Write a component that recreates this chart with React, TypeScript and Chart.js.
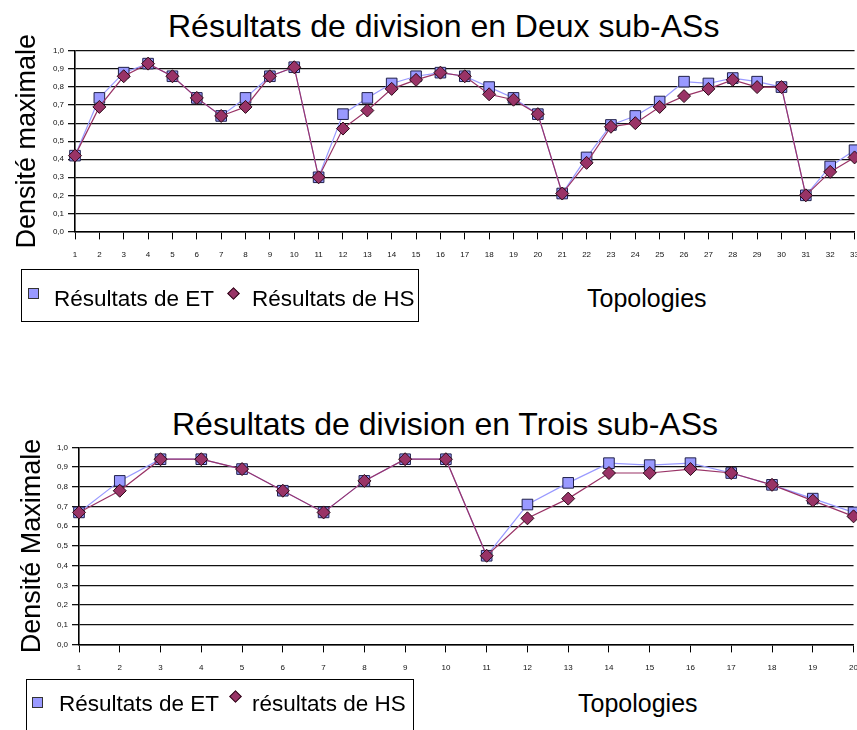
import React, { useEffect, useRef } from 'react';
import { Chart, registerables } from 'chart.js';

Chart.register(...registerables);

const FONT = '"Liberation Sans", Arial, Helvetica, sans-serif';

// Chart 1: division en Deux sub-ASs
const topologies1 = ['1', '2', '3', '4', '5', '6', '7', '8', '9', '10', '11', '12', '13', '14', '15', '16', '17', '18', '19', '20', '21', '22', '23', '24', '25', '26', '27', '28', '29', '30', '31', '32', '33'];
const et1 = [0.42, 0.74, 0.88, 0.93, 0.86, 0.74, 0.64, 0.74, 0.86, 0.91, 0.30, 0.65, 0.74, 0.82, 0.86, 0.88, 0.86, 0.80, 0.74, 0.65, 0.21, 0.41, 0.59, 0.64, 0.72, 0.83, 0.82, 0.85, 0.83, 0.80, 0.20, 0.36, 0.45];
const hs1 = [0.42, 0.69, 0.86, 0.93, 0.86, 0.74, 0.64, 0.69, 0.86, 0.91, 0.30, 0.57, 0.67, 0.79, 0.84, 0.88, 0.86, 0.76, 0.73, 0.65, 0.21, 0.38, 0.58, 0.60, 0.69, 0.75, 0.79, 0.84, 0.80, 0.80, 0.20, 0.33, 0.41];

// Chart 2: division en Trois sub-ASs
const topologies2 = ['1', '2', '3', '4', '5', '6', '7', '8', '9', '10', '11', '12', '13', '14', '15', '16', '17', '18', '19', '20'];
const et2 = [0.67, 0.83, 0.94, 0.94, 0.89, 0.78, 0.67, 0.83, 0.94, 0.94, 0.45, 0.71, 0.82, 0.92, 0.91, 0.92, 0.87, 0.81, 0.74, 0.67];
const hs2 = [0.67, 0.78, 0.94, 0.94, 0.89, 0.78, 0.67, 0.83, 0.94, 0.94, 0.45, 0.64, 0.74, 0.87, 0.87, 0.89, 0.87, 0.81, 0.73, 0.65];

const titles = ['Résultats de division en Deux sub-ASs', 'Résultats de division en Trois sub-ASs'];
const yTitles = ['Densité maximale', 'Densité Maximale'];
const legendET = ['Résultats de ET', 'Résultats de ET'];
const legendHS = ['Résultats de HS', 'résultats de HS'];
const xTitle = 'Topologies';

const ET_COLOR = '#9999FF';
const HS_COLOR = '#993366';

type LCProps = {
  labels: string[];
  et: number[];
  hs: number[];
  yTitle: string;
  top: number;
  width: number;
  height: number;
  padTop: number;
  axisWidth: number;
  yTitlePad: number;
};

function LineChart(p: LCProps) {
  const ref = useRef<HTMLCanvasElement>(null);
  useEffect(() => {
    const chart = new Chart(ref.current as HTMLCanvasElement, {
      type: 'line',
      data: {
        labels: p.labels,
        datasets: [
          {
            label: 'ET',
            data: p.et,
            borderColor: ET_COLOR,
            backgroundColor: ET_COLOR,
            borderWidth: 1.2,
            pointStyle: 'rect',
            pointRadius: 7.5,
            pointBackgroundColor: ET_COLOR,
            pointBorderColor: '#20204a',
            pointBorderWidth: 1,
            order: 2,
            clip: false as any,
            tension: 0,
          },
          {
            label: 'HS',
            data: p.hs,
            borderColor: HS_COLOR,
            backgroundColor: HS_COLOR,
            borderWidth: 1.2,
            pointStyle: 'rectRot',
            pointRadius: 6.5,
            pointBackgroundColor: HS_COLOR,
            pointBorderColor: '#2a0a18',
            pointBorderWidth: 1,
            order: 1,
            clip: false as any,
            tension: 0,
          },
        ],
      },
      options: {
        responsive: false,
        animation: false,
        layout: { padding: { top: p.padTop, left: 0, right: 0, bottom: 0 } },
        plugins: {
          legend: { display: false },
          tooltip: { enabled: false },
          title: { display: false },
        },
        scales: {
          x: {
            grid: { drawOnChartArea: false, drawTicks: true, tickLength: 8, color: '#000', lineWidth: 1 },
            border: { color: '#000', width: 1.6 },
            ticks: {
              autoSkip: false,
              maxRotation: 0,
              padding: 11,
              color: '#111',
              font: { family: FONT, size: 8, lineHeight: 1.2 },
            },
          },
          y: {
            min: 0,
            max: 1,
            afterFit: (s: any) => {
              s.width = p.axisWidth;
            },
            grid: { color: '#111', lineWidth: 1.3, tickLength: 7 },
            border: { color: '#000', width: 1.6 },
            ticks: {
              stepSize: 0.1,
              padding: 4,
              color: '#111',
              font: { family: FONT, size: 8 },
              callback: (v: any) => Number(v).toFixed(1).replace('.', ','),
            },
            title: {
              display: true,
              text: p.yTitle,
              color: '#000',
              font: { family: FONT, size: 27, lineHeight: 1.2 },
              padding: { top: p.yTitlePad, bottom: 0 },
            },
          },
        },
      },
    });
    return () => chart.destroy();
  }, []);
  return (
    <canvas
      ref={ref}
      width={p.width}
      height={p.height}
      style={{ position: 'absolute', left: 0, top: p.top, width: p.width, height: p.height }}
    />
  );
}

function Legend(props: {
  left: number;
  top: number;
  width: number;
  height: number;
  sq: [number, number];
  t1: [number, number];
  dm: [number, number];
  t2: [number, number];
  a: string;
  b: string;
}) {
  const { left, top, width, height, sq, t1, dm, t2, a, b } = props;
  const txt: React.CSSProperties = { position: 'absolute', fontSize: 22.5, lineHeight: '23px', whiteSpace: 'nowrap', color: '#000' };
  return (
    <>
      <div style={{ position: 'absolute', left, top, width, height, border: '1px solid #000', boxSizing: 'border-box' }} />
      <div style={{ position: 'absolute', left: sq[0] - 5.5, top: sq[1] - 5.5, width: 11, height: 11, background: ET_COLOR, border: '1px solid #333', boxSizing: 'border-box' }} />
      <div style={{ ...txt, left: t1[0], top: t1[1] - 11.5 }}>{a}</div>
      <div style={{ position: 'absolute', left: dm[0] - 4.5, top: dm[1] - 4.5, width: 9, height: 9, background: HS_COLOR, border: '1px solid #2a0a18', boxSizing: 'border-box', transform: 'rotate(45deg)' }} />
      <div style={{ ...txt, left: t2[0], top: t2[1] - 11.5 }}>{b}</div>
    </>
  );
}

export default function App() {
  const topo: React.CSSProperties = { position: 'absolute', fontSize: 25, lineHeight: '25px', whiteSpace: 'nowrap', color: '#000' };
  const ttl: React.CSSProperties = { position: 'absolute', fontSize: 32, lineHeight: '32px', whiteSpace: 'nowrap', color: '#000' };
  return (
    <div style={{ position: 'absolute', left: 0, top: 0, width: 857, height: 730, overflow: 'hidden', background: '#fff', fontFamily: FONT }}>
      <div style={{ ...ttl, left: 168, top: 9.5 }}>{titles[0]}</div>
      <LineChart
        labels={topologies1}
        et={et1}
        hs={hs1}
        yTitle={yTitles[0]}
        top={0}
        width={870}
        height={271}
        padTop={51}
        axisWidth={75}
        yTitlePad={11}
      />
      <Legend left={21} top={269} width={398} height={53} sq={[33.5, 293]} t1={[54, 298]} dm={[233, 293]} t2={[252, 298]} a={legendET[0]} b={legendHS[0]} />
      <div style={{ ...topo, left: 587, top: 286 }}>{xTitle}</div>

      <div style={{ ...ttl, left: 172, top: 407.5 }}>{titles[1]}</div>
      <LineChart
        labels={topologies2}
        et={et2}
        hs={hs2}
        yTitle={yTitles[1]}
        top={395}
        width={869}
        height={289}
        padTop={52.4}
        axisWidth={79}
        yTitlePad={16}
      />
      <Legend left={26} top={679} width={388} height={70} sq={[37.5, 702]} t1={[59, 703]} dm={[235, 696]} t2={[252, 703]} a={legendET[1]} b={legendHS[1]} />
      <div style={{ ...topo, left: 578, top: 691 }}>{xTitle}</div>
    </div>
  );
}
